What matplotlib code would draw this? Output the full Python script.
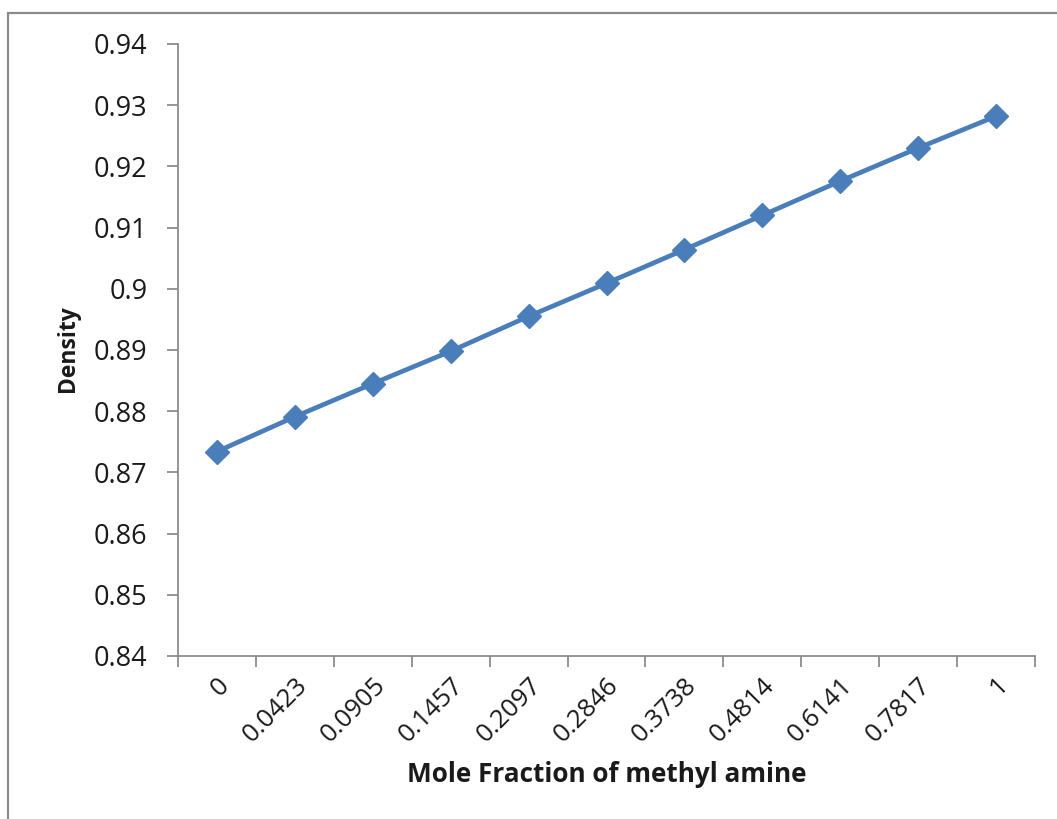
import matplotlib
matplotlib.use("Agg")
import matplotlib.pyplot as plt
from matplotlib.patches import Rectangle
from matplotlib.ticker import FixedLocator

plt.rcParams['font.family'] = ['Open Sans', 'DejaVu Sans']

# Mole fraction of methyl amine (category labels) and measured density
mole_fraction = ["0", "0.0423", "0.0905", "0.1457", "0.2097", "0.2846",
                 "0.3738", "0.4814", "0.6141", "0.7817", "1"]
density = [0.8734, 0.8791, 0.8845, 0.8898, 0.8955, 0.9009,
           0.9064, 0.9120, 0.9176, 0.9230, 0.9282]
y_ticks = [0.84, 0.85, 0.86, 0.87, 0.88, 0.89, 0.90, 0.91, 0.92, 0.93, 0.94]

W, H = 1057, 819
fig = plt.figure(figsize=(W / 100, H / 100), dpi=100)

# outer chart border
fig.patches.append(Rectangle((8 / W, -0.05), 1.2, (H - 13) / H + 0.05,
                             transform=fig.transFigure, fill=False,
                             edgecolor="#8c8c8c", linewidth=1.6))

ax = fig.add_axes([178 / W, (H - 656) / H, (1035 - 178) / W, (656 - 44) / H])

x = list(range(len(mole_fraction)))
ax.plot(x, density, color="#4a7ebb", linewidth=3.4, marker="D",
        markersize=12.5, markerfacecolor="#4a7ebb", markeredgecolor="#4a7ebb",
        markeredgewidth=1)

ax.set_xlim(-0.5, len(mole_fraction) - 0.5)
ax.set_ylim(0.84, 0.94)

axis_col = "#8c8c8c"
for side in ("top", "right"):
    ax.spines[side].set_visible(False)
for side in ("left", "bottom"):
    ax.spines[side].set_color(axis_col)
    ax.spines[side].set_linewidth(1.3)

# y axis
ax.yaxis.set_major_locator(FixedLocator(y_ticks))
ax.set_yticklabels(["%g" % round(v, 2) for v in y_ticks])
ax.tick_params(axis="y", direction="out", length=8, width=1.3,
               color=axis_col, pad=14, labelsize=19.5, labelcolor="#1a1a1a")

# x axis: labels at category centres, tick marks at category boundaries
ax.set_xticks(x)
ax.set_xticklabels(mole_fraction, rotation=45, ha="right", va="top",
                   rotation_mode="anchor")
ax.set_xticks([i - 0.5 for i in range(len(mole_fraction) + 1)], minor=True)
ax.tick_params(axis="x", which="major", length=0, pad=12, labelsize=18.5,
               labelcolor="#1a1a1a")
ax.tick_params(axis="x", which="minor", direction="out", length=8, width=1.3,
               color=axis_col)

fig.text(607 / W, 1 - 775 / H, "Mole Fraction of methyl amine", ha="center",
         va="center", fontsize=18.8, fontweight="bold", color="#1a1a1a")
fig.text(68 / W, 1 - 349 / H, "Density", ha="center", va="center",
         rotation=90, fontsize=16.5, fontweight="bold", color="#1a1a1a")

fig.savefig("out.png", dpi=100)
